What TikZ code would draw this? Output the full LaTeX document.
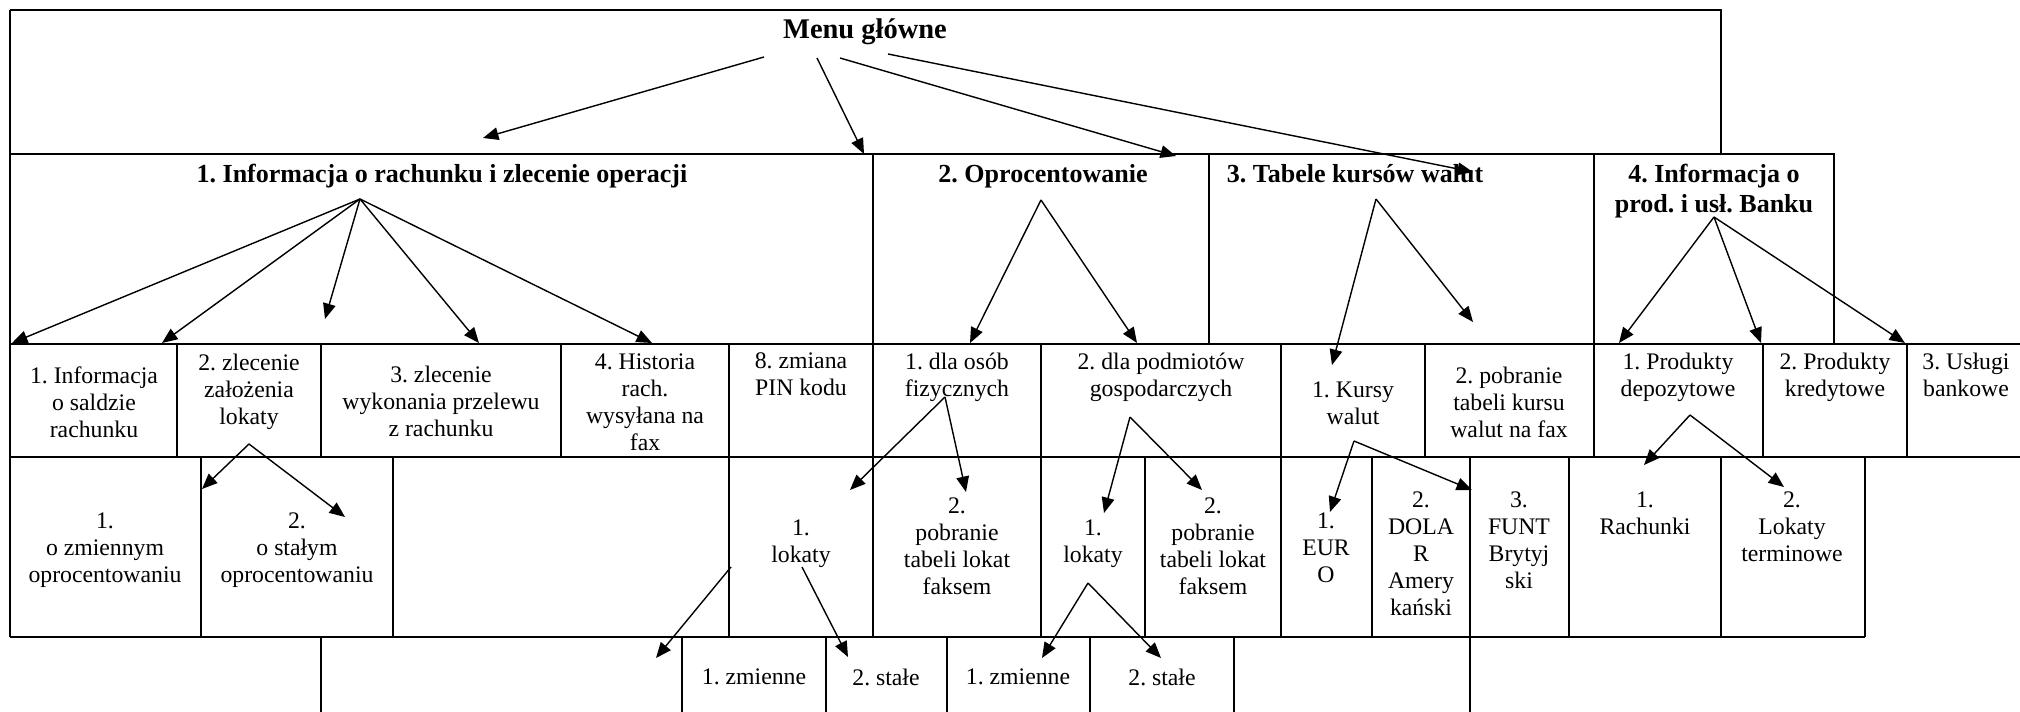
\documentclass[tikz,border=0pt]{standalone}
\usepackage{fontspec}
\setmainfont{Liberation Serif}
\usetikzlibrary{arrows.meta}
\begin{document}
\frenchspacing
\begin{tikzpicture}[x=0.01cm,y=-0.01cm,
  grid/.style={line width=0.5pt},
  arr/.style={line width=0.4pt,-{Triangle[length=4.4pt,width=3.6pt]}},
  txt/.style={anchor=north,inner sep=0pt,align=center,font=\fontsize{6.75}{7.68}\selectfont},
  ttl/.style={anchor=north,inner sep=0pt,align=center,font=\fontsize{7.4}{8.5}\selectfont\bfseries},
  mttl/.style={anchor=north,inner sep=0pt,align=center,font=\fontsize{8.1}{9}\selectfont\bfseries}]
\useasboundingbox (0,0) rectangle (2020,712);
\fill[white] (0,0) rectangle (2020,712);
% ---- grid ----
\draw[grid] (10,10) -- (1721,10) -- (1721,154);
\draw[grid] (10,10) -- (10,637);
\draw[grid] (10,154) -- (1834,154) -- (1834,344);
\foreach \x in {873,1209,1594} \draw[grid] (\x,154) -- (\x,344);
\draw[grid] (10,344) -- (2020,344);
\draw[grid] (10,457) -- (2020,457);
\foreach \x in {177,321,561,729,873,1041,1281,1425,1594,1763,1907} \draw[grid] (\x,344) -- (\x,457);
\draw[grid] (10,637) -- (1865,637);
\foreach \x in {201,393,729,873,1041,1145,1281,1372,1569,1721,1865} \draw[grid] (\x,457) -- (\x,637);
\draw[grid] (1470,457) -- (1470,712);
\foreach \x in {321,682,826,947,1090,1234} \draw[grid] (\x,637) -- (\x,712);
% ---- texts ----
\node[mttl] (menu) at (865,18.5) {Menu główne};
\node[ttl] (t1) at (442,163.5) {1. Informacja o rachunku i zlecenie operacji};
\node[ttl] (t2) at (1043,163.5) {2. Oprocentowanie};
\node[ttl] (t3) at (1355,163.5) {3. Tabele kursów walut};
\node[ttl] (t4) at (1714,163.5) {4. Informacja o\\prod. i usł. Banku};
% level 2
\node[txt] (s11) at (94,366) {1. Informacja\\o saldzie\\rachunku};
\node[txt] (s12) at (249,353) {2. zlecenie\\założenia\\lokaty};
\node[txt] (s13) at (441,365) {3. zlecenie\\wykonania przelewu\\z rachunku};
\node[txt] (s14) at (645,353) {4. Historia\\rach.\\wysyłana na\\fax};
\node[txt] (s18) at (801,352) {8. zmiana\\PIN kodu};
\node[txt] (s21) at (957,352) {1. dla osób\\fizycznych};
\node[txt] (s22) at (1161,352) {2. dla podmiotów\\gospodarczych};
\node[txt] (s31) at (1353,381) {1. Kursy\\walut};
\node[txt] (s32) at (1509,366) {2. pobranie\\tabeli kursu\\walut na fax};
\node[txt] (s41) at (1678,352) {1. Produkty\\depozytowe};
\node[txt] (s42) at (1835,352) {2. Produkty\\kredytowe};
\node[txt] (s43) at (1966,352) {3. Usługi\\bankowe};
% level 3
\node[txt] (u121) at (105,512) {1.\\o zmiennym\\oprocentowaniu};
\node[txt] (u122) at (297,512) {2.\\o stałym\\oprocentowaniu};
\node[txt] (u211) at (801,519) {1.\\lokaty};
\node[txt] (u212) at (957,497) {2.\\pobranie\\tabeli lokat\\faksem};
\node[txt] (u221) at (1093,519) {1.\\lokaty};
\node[txt] (u222) at (1213,497) {2.\\pobranie\\tabeli lokat\\faksem};
\node[txt] (u311) at (1326,512) {1.\\EUR\\O};
\node[txt] (u312) at (1421,491) {2.\\DOLA\\R\\Amery\\kański};
\node[txt] (u313) at (1519,491) {3.\\FUNT\\Brytyj\\ski};
\node[txt] (u411) at (1645,491) {1.\\Rachunki};
\node[txt] (u412) at (1792,491) {2.\\Lokaty\\terminowe};
% level 4
\node[txt] (v1) at (754,668) {1. zmienne};
\node[txt] (v2) at (886,668) {2. stałe};
\node[txt] (v3) at (1018,668) {1. zmienne};
\node[txt] (v4) at (1162,668) {2. stałe};
% ---- arrow coordinates ----
\coordinate (m1s) at (764,57);  \coordinate (m1e) at (483,138);
\coordinate (m2s) at (817,58);  \coordinate (m2e) at (864,154);
\coordinate (m3s) at (840,58);  \coordinate (m3e) at (1176,156);
\coordinate (m4s) at (888,54);  \coordinate (m4e) at (1473,172);
\coordinate (b1) at (360,199);
\coordinate (b1a) at (12,343); \coordinate (b1b) at (162,343); \coordinate (b1c) at (325,319);
\coordinate (b1d) at (479,343); \coordinate (b1e) at (652,343);
\coordinate (b2) at (1041,200);
\coordinate (b2a) at (970,343); \coordinate (b2b) at (1137,343);
\coordinate (b3) at (1376,199);
\coordinate (b3a) at (1332,365); \coordinate (b3b) at (1473,322);
\coordinate (b4) at (1714,217);
\coordinate (b4a) at (1619,343); \coordinate (b4b) at (1761,343); \coordinate (b4c) at (1905,343);
\coordinate (c1) at (249,444);
\coordinate (c1a) at (202,489); \coordinate (c1b) at (345,517);
\coordinate (c2) at (945,397);
\coordinate (c2a) at (850,490); \coordinate (c2b) at (966,492);
\coordinate (c3) at (1130,417);
\coordinate (c3a) at (1104,513); \coordinate (c3b) at (1202,490);
\coordinate (c4) at (1354,441);
\coordinate (c4a) at (1330,512); \coordinate (c4b) at (1472,490);
\coordinate (c5) at (1690,415);
\coordinate (c5a) at (1644,465); \coordinate (c5b) at (1784,487);
\coordinate (d1) at (731,567); \coordinate (d1a) at (656,658);
\coordinate (d2) at (802,567); \coordinate (d2a) at (848,657);
\coordinate (d3) at (1088,583);
\coordinate (d3a) at (1042,658); \coordinate (d3b) at (1161,658);
% ---- arrows ----
\draw[arr] (m1s) -- (m1e);
\draw[arr] (m2s) -- (m2e);
\draw[arr] (m3s) -- (m3e);
\draw[arr] (m4s) -- (m4e);
\foreach \e in {b1a,b1b,b1c,b1d,b1e} \draw[arr] (b1) -- (\e);
\foreach \e in {b2a,b2b} \draw[arr] (b2) -- (\e);
\foreach \e in {b3a,b3b} \draw[arr] (b3) -- (\e);
\foreach \e in {b4a,b4b,b4c} \draw[arr] (b4) -- (\e);
\foreach \e in {c1a,c1b} \draw[arr] (c1) -- (\e);
\foreach \e in {c2a,c2b} \draw[arr] (c2) -- (\e);
\foreach \e in {c3a,c3b} \draw[arr] (c3) -- (\e);
\foreach \e in {c4a,c4b} \draw[arr] (c4) -- (\e);
\foreach \e in {c5a,c5b} \draw[arr] (c5) -- (\e);
\draw[arr] (d1) -- (d1a);
\draw[arr] (d2) -- (d2a);
\foreach \e in {d3a,d3b} \draw[arr] (d3) -- (\e);
\end{tikzpicture}
\end{document}
